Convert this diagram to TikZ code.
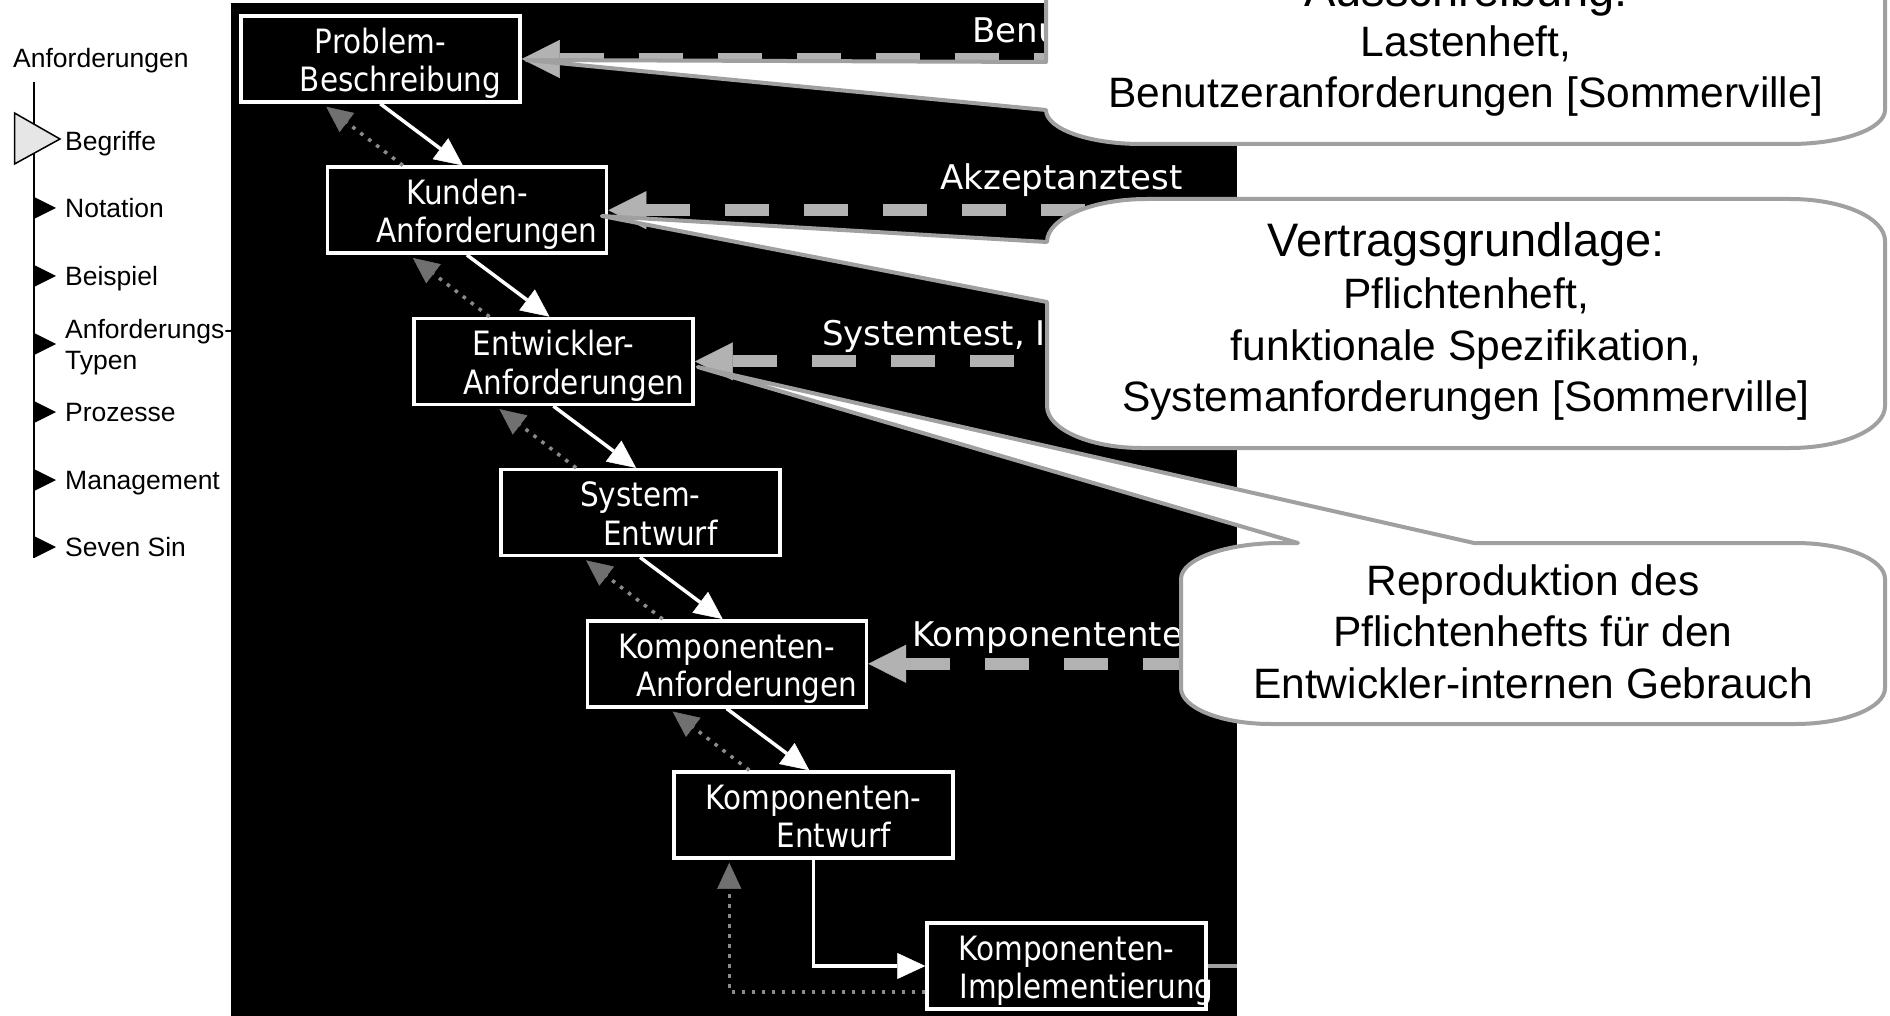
\documentclass[tikz,border=0pt]{standalone}
\usepackage{fontspec}
\setmainfont{Liberation Sans}
\newfontfamily\panelfont{DejaVu Sans}
\newfontfamily\boxfont[FakeStretch=0.88]{DejaVu Sans}
\usetikzlibrary{arrows.meta,calc}
\definecolor{dashgrey}{HTML}{B2B2B2}
\definecolor{callgrey}{HTML}{A0A0A0}
\definecolor{dotgrey}{HTML}{8A8A8A}
\definecolor{dotheadgrey}{HTML}{707070}
\definecolor{menufill}{HTML}{E6E6E6}
\tikzset{
  stagebox/.style={draw=white, line width=3.5pt, fill=black,
    minimum width=279pt, minimum height=86pt, inner sep=0pt},
  boxline/.style={text=white, anchor=base, inner sep=0pt,
    font=\boxfont\fontsize{33.5}{39}\selectfont},
  flowarr/.style={draw=white, line width=3.5pt,
    -{Triangle[length=28pt,width=26pt,line width=0.5pt]}},
  backarr/.style={draw=dotgrey, line width=3.5pt, dash pattern=on 3.5pt off 6.5pt,
    -{Triangle[length=26pt,width=24pt,line width=0.5pt,color=dotheadgrey]}},
  testarr/.style={draw=dashgrey, line width=12pt, dash pattern=on 44pt off 35pt,
    {Triangle[length=38pt,width=38pt,line width=0.5pt]}-},
  tlabel/.style={text=white, font=\panelfont\fontsize{34}{40}\selectfont,
    anchor=base west, inner sep=0pt},
  menutext/.style={font=\fontsize{26.5}{31}\selectfont, anchor=base west, inner sep=0pt},
  calloutshape/.style={fill=white, draw=callgrey, line width=4pt, line join=round},
  ctext/.style={font=\fontsize{42.5}{51}\selectfont, anchor=base, inner sep=0pt},
  chead/.style={font=\fontsize{47}{56}\selectfont, anchor=base, inner sep=0pt}
}
\newcommand{\stagenode}[5]{%
  \node[stagebox] (#1) at (#2,#3) {};
  \node[boxline] (#1a) at ($(#1.center)+(0,-5.8)$) {#4};
  \node[boxline] (#1b) at ($(#1.center)+(20,32.8)$) {#5};
}
\begin{document}
\begin{tikzpicture}[x=1pt,y=-1pt]
\useasboundingbox (0,0) rectangle (1890,1016);
\clip (0,0) rectangle (1890,1016);
\fill[white] (0,0) rectangle (1890,1016);

% ---------- left menu ----------
\node[menutext] (m0) at (13,67.5) {Anforderungen};
\draw[line width=2pt] (34,82) -- (34,558);
\filldraw[fill=menufill, draw=black, line width=1.5pt] (14.5,113) -- (14.5,164) -- (60,139) -- cycle;
\foreach \yy in {208,276,344,412,480,547}
  \fill[black] (34,\yy-11) -- (34,\yy+11) -- (56,\yy) -- cycle;
\node[menutext] (m1) at (65,150.5) {Begriffe};
\node[menutext] (m2) at (65,217.5) {Notation};
\node[menutext] (m3) at (65,285.5) {Beispiel};
\node[menutext] (m4a) at (65,338.5) {Anforderungs-};
\node[menutext] (m4b) at (65,369.5) {Typen};
\node[menutext] (m5) at (65,421.5) {Prozesse};
\node[menutext] (m6) at (65,489.5) {Management};
\node[menutext] (m7) at (65,556.5) {Seven Sin};

% ---------- black panel ----------
\fill[black] (231,3) rectangle (1237,1016);
\coordinate (rim) at (1237,0);

\stagenode{pb}{380.5}{59}{Problem-}{Beschreibung}
\stagenode{ka}{467.1}{210.2}{Kunden-}{Anforderungen}
\stagenode{ea}{553.7}{361.4}{Entwickler-}{Anforderungen}
\stagenode{se}{640.3}{512.6}{System-}{Entwurf}
\stagenode{kan}{726.9}{663.8}{Komponenten-}{Anforderungen}
\stagenode{ke}{813.5}{815}{Komponenten-}{Entwurf}
\stagenode{ki}{1066.5}{966}{Komponenten-}{Implementierung}

% forward and feedback arrows
\foreach \a/\b in {pb/ka,ka/ea,ea/se,se/kan,kan/ke}{
  \draw[flowarr] ($(\a.south west)+(141,0)$) -- ($(\b.north west)+(137,0)$);
  \draw[backarr] ($(\b.north west)+(77,0)$) -- ($(\a.south west)+(87,3)$);
}
\draw[flowarr] (ke.south) |- (ki.west);
\draw[backarr] ($(ki.south west)+(0,-19)$) -| ($(ke.south west)+(57,3)$);
\draw[callgrey, line width=4pt] (ki.east) -- (ki.east -| rim);

% test arrows
\draw[testarr] (pb.east) -- (pb.east -| rim);
\draw[testarr] (ka.east) -- (ka.east -| rim);
\draw[testarr] (ea.east) -- (ea.east -| rim);
\draw[testarr] (kan.east) -- (kan.east -| rim);

\node[tlabel] (l1) at (972,43) {Benutzertest};
\node[tlabel] (l2) at (940,190) {Akzeptanztest};
\node[tlabel] (l3) at (822,345) {Systemtest, Integrationstest};
\node[tlabel] (l4) at (912,646) {Komponententest};

% ---------- callouts ----------
\coordinate (tip1) at ($(pb.east)+(4.5,1)$);
\coordinate (tip2) at ($(ka.east)+(-6.6,5.8)$);
\coordinate (tip3) at ($(ea.east)+(2.8,5.6)$);

% callout 3
\path[calloutshape] (1474,543) -- (1795,543) .. controls (1844.7,543) and (1885,559.1) .. (1885,579)
  -- (1885,688) .. controls (1885,707.9) and (1844.7,724) .. (1795,724)
  -- (1271,724) .. controls (1221.3,724) and (1181,707.9) .. (1181,688)
  -- (1181,579) .. controls (1181,559.1) and (1225.8,543) .. (1281,543)
  -- (1298,543) -- (tip3) -- cycle;
\node[ctext] (c3a) at (1533,595) {Reproduktion des};
\node[ctext] (c3b) at (1533,646.5) {Pflichtenhefts für den};
\node[ctext] (c3c) at (1533,698) {Entwickler-internen Gebrauch};

% callout 2
\path[calloutshape] (1047,302) -- (1047,406) .. controls (1047,429.2) and (1089.5,448) .. (1142,448)
  -- (1790,448) .. controls (1842.5,448) and (1885,429.2) .. (1885,406)
  -- (1885,241) .. controls (1885,217.8) and (1842.5,199) .. (1790,199)
  -- (1147,199) .. controls (1091.8,199) and (1047,218.3) .. (1047,242)
  -- (tip2) -- cycle;
\node[chead] (c2a) at (1466,257) {Vertragsgrundlage:};
\node[ctext] (c2b) at (1466,308.5) {Pflichtenheft,};
\node[ctext] (c2c) at (1466,360) {funktionale Spezifikation,};
\node[ctext] (c2d) at (1466,411.5) {Systemanforderungen [Sommerville]};

% callout 1
\path[calloutshape] (1046,62) -- (1046,-60) -- (1885,-60)
  -- (1885,110) .. controls (1885,128.8) and (1842.5,144) .. (1790,144)
  -- (1141,144) .. controls (1088.5,144) and (1046,128.8) .. (1046,110)
  -- (tip1) -- cycle;
\node[chead] (c1a) at (1466,7) {Ausschreibung:};
\node[ctext] (c1b) at (1466,56.5) {Lastenheft,};
\node[ctext] (c1c) at (1466,107.5) {Benutzeranforderungen [Sommerville]};
\end{tikzpicture}
\end{document}
